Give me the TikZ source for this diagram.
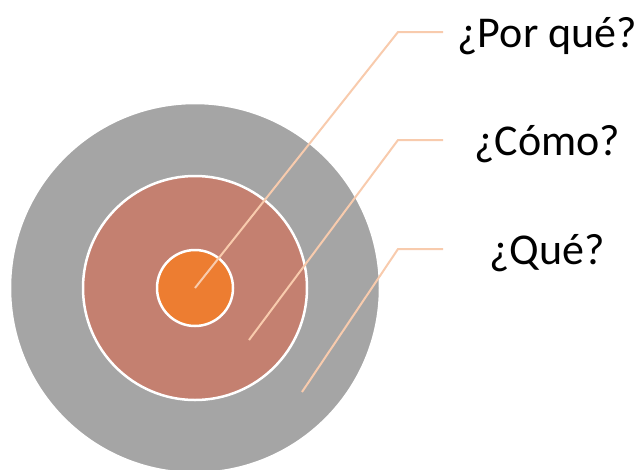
\documentclass[tikz,border=0pt]{standalone}
\usepackage{fontspec}
\setmainfont{Carlito}
\definecolor{ringgray}{HTML}{A5A5A5}
\definecolor{ringrose}{HTML}{C48070}
\definecolor{ringorange}{HTML}{ED7D31}
\definecolor{leadpeach}{HTML}{F8CBAD}
\tikzset{
  ring/.style={circle, draw=white, line width=2.5pt, inner sep=0pt},
  leader/.style={draw=leadpeach, line width=2pt},
  qlabel/.style={font=\fontsize{44}{53}\selectfont, text height=31pt, text depth=0pt,
    inner sep=0pt, minimum width=208pt, anchor=west, align=center}
}
\begin{document}
\begin{tikzpicture}[x=1pt,y=-1pt]
\useasboundingbox (0,0) rectangle (642,469);
\clip (0,0) rectangle (642,469);
\node[ring, fill=ringgray, minimum size=370pt] (outer) at (195,288){};
\node[ring, fill=ringrose, minimum size=224pt] (middle) at (195,288){};
\node[ring, fill=ringorange, minimum size=76pt] (inner) at (195,288){};
\coordinate (how0) at (249,340);
\coordinate (what0) at (302,392);
\coordinate (why1) at (398,32);
\coordinate (how1) at (398,140);
\coordinate (what1) at (398,249);
\node[qlabel] (why) at (443,32){¿Por qué?};
\node[qlabel] (how) at (443,140){¿Cómo?};
\node[qlabel] (what) at (443,249){¿Qué?};
\draw[leader](inner.center) -- (why1) -- (why.west);
\draw[leader](how0) -- (how1) -- (how.west);
\draw[leader](what0) -- (what1) -- (what.west);
\end{tikzpicture}
\end{document}
